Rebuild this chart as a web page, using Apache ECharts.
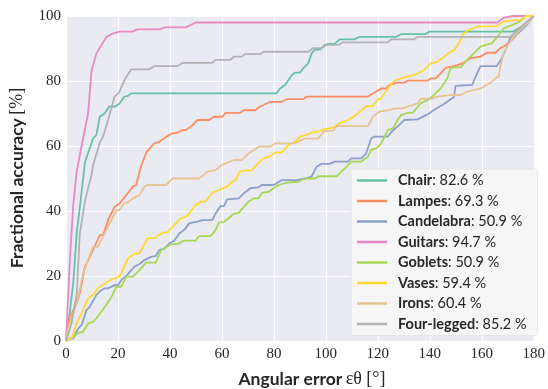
<!DOCTYPE html>
<html><head><meta charset="utf-8">
<script src="https://cdn.jsdelivr.net/npm/echarts@6/dist/echarts.min.js"></script>
<style>html,body{margin:0;padding:0;background:#fff}#c{width:548px;height:389px}</style>
</head><body><div id="c"></div><script>
var names = ['Chair','Lampes','Candelabra','Guitars','Goblets','Vases','Irons','Four-legged'];
var percents = ['82.6','69.3','50.9','94.7','50.9','59.4','60.4','85.2'];
var colors = ['#66c2a5','#fc8d62','#8da0cb','#e78ac3','#a6d854','#ffd92f','#e5c494','#b3b3b3'];
var xTicks = [0,20,40,60,80,100,120,140,160,180];
var yTicks = [0,20,40,60,80,100];

var chair = [[0,0],[1.5,9],[2.8,18],[4.1,33],[5.3,41],[6.6,50],[7.3,55],[10.4,62.3],[11.7,63.4],[13,69],[14.9,70],[16.5,72.1],[18.7,72.1],[20.6,73.1],[22.5,75.2],[23.8,75.4],[25.1,76.2],[81,76.2],[82.4,77.7],[84.3,78.8],[86.9,81.8],[88.2,82.6],[90.1,82.6],[91.3,83.9],[93.2,85.4],[94.5,88.5],[95.8,89.7],[97.7,89.7],[99.6,91.1],[101,91.4],[103.4,91.4],[105.3,92.8],[111,92.8],[113,93.6],[127,93.6],[129,94.4],[138,94.4],[140,95.2],[172,95.2],[176,97],[180,100]];
var lampes = [[0,1.3],[1.5,7.5],[2.8,9.5],[4.1,11.6],[5.3,14.6],[7.3,22.9],[9.2,25.9],[10.4,28],[13,32.6],[14.3,32.6],[16.2,37.2],[18.7,41.3],[20.6,42.3],[23.2,44.9],[25.7,47.5],[27,48],[28.3,52],[29,54],[31,58.2],[34,60.8],[35.9,61.3],[38.5,62.8],[41,63.9],[42.9,64.1],[44.8,64.9],[46.1,64.9],[48,65.9],[50.6,68],[55,68],[56.9,69],[60.1,69],[61.4,70.2],[67.1,70.2],[68.4,71],[72.9,71],[74.1,71.9],[76,72.6],[78.6,73.6],[83,73.6],[85,74.4],[91.3,74.4],[92.6,75.2],[116.2,75.2],[121.3,77.7],[123.2,77.7],[124.5,78.8],[127.6,79.5],[130.2,79.5],[131.5,80.1],[139.1,80.1],[140.4,80.8],[142.3,80.8],[143.6,81.8],[145.5,83.6],[146.7,84.2],[148.6,84.4],[150.6,84.9],[153.1,85.6],[155.6,87],[159.5,87.5],[162,88.7],[165.2,88.7],[167.1,90.1],[168.4,90.6],[170.3,91.6],[172.2,93.1],[174.7,95.7],[177.3,97.7],[180,100]];
var candelabra = [[0,0],[2.8,0.8],[4.7,3.9],[6,4.9],[7.9,9.5],[9.2,10.6],[11.7,14.2],[13,15.2],[14.9,16.2],[16.2,16.2],[18.7,17.2],[20,17.2],[21.3,18.8],[23.2,20],[25.1,21.8],[26.4,22.9],[28.3,23.7],[30.2,24.9],[32.7,25.9],[34.6,26.2],[35.9,28],[37.8,28.4],[39.7,30],[41.7,30.9],[43.6,33.1],[45.5,34.2],[47.4,36.2],[48.6,36.4],[50.6,36.7],[52.5,37.2],[56.3,37.2],[57.6,39.3],[59.5,41.5],[60.8,41.5],[62,43.6],[66.5,43.9],[68.4,45.4],[70.9,47],[74.1,47.3],[75.4,48],[79.9,48],[83,49.5],[88.8,49.5],[92,50],[94.5,50.6],[96.4,53.6],[98.3,54.5],[101.5,54.5],[103.4,55.2],[108.5,55.2],[109.8,56.2],[113.6,56.2],[115.5,57.7],[117.4,62.3],[118.7,62.9],[123.8,62.9],[125.7,64.7],[128.3,66.5],[130.2,68],[135.3,68.2],[137.8,69.2],[139.7,70],[141.6,71.1],[143.6,72.1],[145.5,72.9],[148,74.4],[149.3,75],[149.9,78.5],[150.6,78.8],[156.3,78.8],[157.6,81.3],[159.5,84.6],[165.8,84.6],[167.7,87],[169.7,90.6],[171,93.4],[172.2,93.6],[174.7,95.2],[177.3,97.2],[180,100]];
var guitars = [[0,0],[0.7,12],[1.5,25],[2.8,42],[4.1,52],[6,60],[8.5,70],[9.8,83],[11.7,88.5],[15.5,93.5],[18,94.6],[20.5,95.2],[25.5,95.2],[27.5,95.9],[36,95.9],[38,96.5],[46,96.5],[50,98],[166,98],[168.5,99.5],[172,100],[180,100]];
var goblets = [[0,0],[2.8,1.3],[4.7,2.4],[6.6,2.9],[8.5,5.4],[10.4,5.9],[11.7,7],[13.6,9],[15.5,11.1],[17.5,13.6],[19.4,16.7],[21.3,16.7],[23.2,19.8],[25.7,19.8],[28.3,21.8],[30.8,24.1],[34.6,24.1],[36.6,28],[37.8,28.5],[40.4,29.8],[42.9,29.8],[45.5,30.9],[49.9,30.9],[51.2,32.3],[55.7,32.3],[57.6,34.2],[58.8,36.4],[60.8,36.7],[64.6,39.1],[66.5,39.5],[70.3,42.9],[72.2,43.9],[74.1,43.9],[75.4,45.6],[78,45.9],[81.8,48],[85,48.7],[89.4,49],[92,50],[95.8,50],[97.1,50.7],[104.1,50.7],[105.3,51.6],[107.9,53.6],[109.8,55.2],[113.6,55.2],[116.2,56.7],[117.4,58.8],[119.4,59.3],[121.3,60.8],[123.8,64.9],[125.7,65.4],[127.6,68],[128.9,69.5],[131.5,70.2],[133.4,70.2],[136.5,73.1],[139.1,74.1],[141.6,75.7],[144.2,77.7],[146.7,80.8],[148,83.9],[149.3,84.2],[151.8,84.2],[154.4,86.5],[156.9,88.5],[159.5,90.6],[161.4,91.1],[163.9,91.6],[166.5,94.1],[168.4,96.2],[171.6,97.2],[174.7,98.3],[176.8,100],[180,100]];
var vases = [[0,0],[2.2,0.8],[4.1,5.4],[6,8.5],[8.5,13.1],[10.4,14.2],[12.3,16.2],[14.9,17.7],[17.5,19],[20,19.6],[21.3,20.8],[23.8,25.4],[26.4,26.8],[28.3,27],[31.4,31.6],[34,31.6],[37.2,33.3],[39.1,33.6],[41.7,35.7],[44.2,37.7],[46.7,38.5],[49.3,41.3],[51.9,42.9],[53.7,42.9],[56.3,45.7],[58.8,46.4],[60.1,46.9],[62,47.5],[64,49],[65.2,49.5],[67.1,52.3],[71.6,52.6],[74.1,54.9],[76,56.2],[78,56.7],[80.5,58],[83,58],[85.6,60.3],[88.2,61.3],[90.1,62.9],[92.6,63.4],[94.5,64.1],[97.1,64.4],[99,65.1],[101.5,65.4],[103.4,65.9],[105.3,67],[108.5,68],[111.1,69.2],[113.6,70.9],[115.5,72.3],[118.1,72.3],[120,74.4],[121.3,74.6],[123.8,77.7],[126.4,80.1],[128.9,80.8],[130.8,81.3],[133.4,81.8],[135.3,82.3],[137.8,83.4],[140.4,85.4],[142.9,85.9],[144.8,87],[147.4,88.7],[149.3,89.5],[151.2,91.6],[152.5,94.1],[154.4,95.5],[158.2,96.7],[165.8,96.9],[168.4,98.3],[174.7,98.8],[177.3,100],[180,100]];
var irons = [[0,1],[1.2,5],[2.8,8.5],[4.7,13.6],[6.6,20.8],[8.5,24.9],[10.4,29],[12.3,29],[14.3,32.1],[16.8,36.2],[19.4,40.3],[20.6,40.3],[22.5,42.6],[23.8,42.6],[25.7,43.9],[28.3,44.9],[30.2,47.5],[31.4,48],[38.5,48],[41,50],[51.2,50],[53.1,51.1],[54.4,52.1],[57.6,52.6],[60.1,54.2],[64.6,55.7],[67.7,55.7],[70.3,57.7],[74.1,59.8],[78.6,59.8],[80.5,60.8],[88,60.8],[92,62.3],[97.1,62.3],[99,64.4],[102.8,64.7],[104.1,66.1],[116.2,66.1],[118.1,69],[120.6,70.6],[123.8,71],[127,71.6],[129.6,71.6],[131.5,72.1],[135.3,73.1],[136.5,74.5],[140.4,74.5],[142.9,75.2],[145.5,75.4],[148,75.7],[151.8,75.7],[154.4,76.7],[156.9,77.2],[159.5,77.7],[162,78.8],[163.9,79.8],[165.2,80.8],[166.5,81.3],[167.1,84.4],[168.4,88.5],[169.7,90.6],[172.2,93.6],[174.7,95.7],[178.6,98.6],[180,100]];
var fourLegged = [[0,0],[2,5],[4.1,14],[5.3,33],[7.3,43],[8.5,47],[9.8,51],[10.4,54],[13,61],[14.3,63],[16.2,68],[18.7,75.2],[20.4,76.4],[22.5,80.3],[25.1,83.6],[32,83.6],[34,84.6],[43,84.6],[45,85.6],[56.3,85.6],[57.6,86.5],[63.3,86.5],[64.6,87.5],[67.7,87.5],[69,88.3],[74.8,88.3],[76,89],[93.2,89],[95.1,90.1],[98.3,90.1],[100.2,91.1],[104.7,91.1],[106.6,91.9],[123.8,91.9],[125.1,92.8],[134,92.8],[135.3,93.6],[171,93.6],[173,95],[177,98],[180,100]];

var seriesData = [chair, lampes, candelabra, guitars, goblets, vases, irons, fourLegged];

var chart = echarts.init(document.getElementById('c'), null, {renderer:'canvas'});
var txt = '#262626';
var option = {
  animation: false,
  backgroundColor: '#ffffff',
  grid: {left:66, top:16, width:471, height:325, show:true, backgroundColor:'#eaeaf2', borderWidth:0},
  xAxis: {type:'value', min:xTicks[0], max:xTicks[xTicks.length-1], interval:xTicks[1]-xTicks[0],
    axisLine:{show:false}, axisTick:{show:false},
    splitLine:{lineStyle:{color:'#ffffff', width:1.2}},
    axisLabel:{fontFamily:'Liberation Serif', fontSize:15, color:txt, margin:6, showMaxLabel:true, showMinLabel:true}},
  yAxis: {type:'value', min:yTicks[0], max:yTicks[yTicks.length-1], interval:yTicks[1]-yTicks[0],
    axisLine:{show:false}, axisTick:{show:false},
    splitLine:{lineStyle:{color:'#ffffff', width:1.2}},
    axisLabel:{fontFamily:'Liberation Serif', fontSize:15, color:txt, margin:5}},
  legend: {
    orient:'vertical', left:351, top:169, padding:[4,11,4,6], itemGap:5.5,
    itemWidth:30, itemHeight:2.5, icon:'rect',
    backgroundColor:'rgba(247,247,247,0.95)', borderColor:'#e2e2e2', borderWidth:0.8, borderRadius:3,
    data: names,
    formatter: function(n){ var i = names.indexOf(n); return '{s|}{b|' + n + '}{n|: ' + percents[i] + ' %}'; },
    textStyle: {rich:{
      s:{width:6},
      b:{fontFamily:'Lato', fontWeight:'bold', fontSize:14.5, color:txt, lineHeight:16},
      n:{fontFamily:'Lato', fontSize:14.5, color:txt, lineHeight:16}
    }}
  },
  graphic: [
    {type:'text', x:312, y:379, z:10, style:{
      text:'{b|Angular error} {s|εθ [°]}', align:'center', verticalAlign:'middle',
      rich:{b:{fontFamily:'Lato', fontWeight:'bold', fontSize:17.5, fill:txt}, s:{fontFamily:'Liberation Serif', fontSize:18, fill:txt}}
    }},
    {type:'text', x:17, y:178, rotation:Math.PI/2, z:10, style:{
      text:'{b|Fractional accuracy} {s|[%]}', align:'center', verticalAlign:'middle',
      rich:{b:{fontFamily:'Lato', fontWeight:'bold', fontSize:17.5, fill:txt}, s:{fontFamily:'Liberation Serif', fontSize:18, fill:txt}}
    }}
  ],
  series: names.map(function(n, i){
    return {name:n, type:'line', data:seriesData[i], showSymbol:false, symbol:'none',
      lineStyle:{width:1.8, color:colors[i]}, itemStyle:{color:colors[i]}, clip:false};
  })
};
chart.setOption(option);
</script></body></html>
